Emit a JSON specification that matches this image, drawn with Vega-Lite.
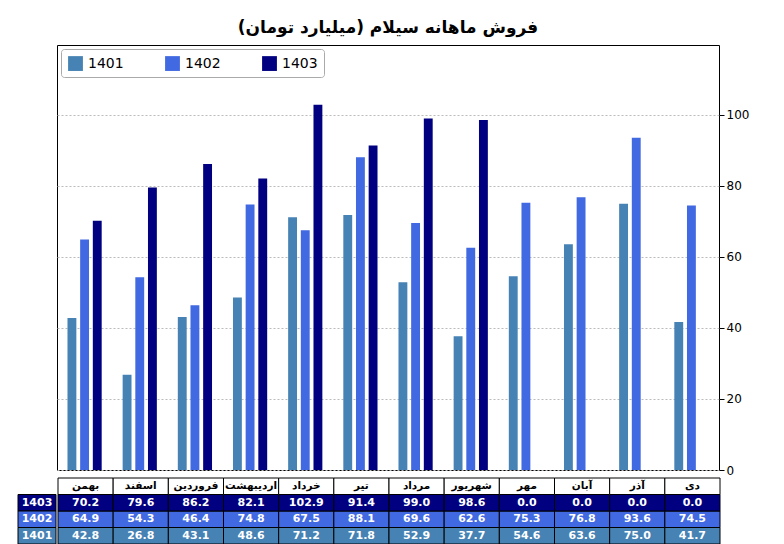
{
  "$schema": "https://vega.github.io/schema/vega-lite/v6.json",
  "background": "white",
  "padding": {"left": 17, "top": 18, "right": 5, "bottom": 5},
  "config": {"font": "DejaVu Sans", "view": {"stroke": null}, "concat": {"spacing": 0}},
  "datasets": {
    "sales": [
      {"month": "بهمن", "year": "1401", "value": 42.8}, {"month": "بهمن", "year": "1402", "value": 64.9}, {"month": "بهمن", "year": "1403", "value": 70.2},
      {"month": "اسفند", "year": "1401", "value": 26.8}, {"month": "اسفند", "year": "1402", "value": 54.3}, {"month": "اسفند", "year": "1403", "value": 79.6},
      {"month": "فروردین", "year": "1401", "value": 43.1}, {"month": "فروردین", "year": "1402", "value": 46.4}, {"month": "فروردین", "year": "1403", "value": 86.2},
      {"month": "اردیبهشت", "year": "1401", "value": 48.6}, {"month": "اردیبهشت", "year": "1402", "value": 74.8}, {"month": "اردیبهشت", "year": "1403", "value": 82.1},
      {"month": "خرداد", "year": "1401", "value": 71.2}, {"month": "خرداد", "year": "1402", "value": 67.5}, {"month": "خرداد", "year": "1403", "value": 102.9},
      {"month": "تیر", "year": "1401", "value": 71.8}, {"month": "تیر", "year": "1402", "value": 88.1}, {"month": "تیر", "year": "1403", "value": 91.4},
      {"month": "مرداد", "year": "1401", "value": 52.9}, {"month": "مرداد", "year": "1402", "value": 69.6}, {"month": "مرداد", "year": "1403", "value": 99.0},
      {"month": "شهریور", "year": "1401", "value": 37.7}, {"month": "شهریور", "year": "1402", "value": 62.6}, {"month": "شهریور", "year": "1403", "value": 98.6},
      {"month": "مهر", "year": "1401", "value": 54.6}, {"month": "مهر", "year": "1402", "value": 75.3}, {"month": "مهر", "year": "1403", "value": 0.0},
      {"month": "آبان", "year": "1401", "value": 63.6}, {"month": "آبان", "year": "1402", "value": 76.8}, {"month": "آبان", "year": "1403", "value": 0.0},
      {"month": "آذر", "year": "1401", "value": 75.0}, {"month": "آذر", "year": "1402", "value": 93.6}, {"month": "آذر", "year": "1403", "value": 0.0},
      {"month": "دی", "year": "1401", "value": 41.7}, {"month": "دی", "year": "1402", "value": 74.5}, {"month": "دی", "year": "1403", "value": 0.0}
    ],
    "years": [{"year": "1403"}, {"year": "1402"}, {"year": "1401"}]
  },
  "resolve": {"scale": {"color": "independent"}, "legend": {"color": "independent"}},
  "vconcat": [
    {
      "resolve": {"scale": {"color": "independent"}, "legend": {"color": "independent"}},
      "hconcat": [
        {"width": 38, "height": 425, "data": {"values": [{}]}, "mark": {"type": "rect", "opacity": 0}, "encoding": {}},
        {
          "width": 662,
          "height": 425,
          "view": {"stroke": "black"},
          "title": {"text": "فروش ماهانه سیلام (میلیارد تومان)", "fontSize": 17, "fontWeight": "bold", "offset": 8},
          "data": {"name": "sales"},
          "mark": {"type": "bar"},
          "encoding": {
            "x": {"field": "month", "type": "nominal", "sort": null, "axis": null, "scale": {"paddingInner": 0.38, "paddingOuter": 0.19}},
            "xOffset": {"field": "year", "type": "nominal", "scale": {"paddingInner": 0.3}},
            "y": {"field": "value", "type": "quantitative", "scale": {"domain": [0, 119.7], "nice": false},
              "axis": {"orient": "right", "values": [0, 20, 40, 60, 80, 100], "title": null, "grid": true, "gridDash": [2, 2], "gridColor": "#bbbbbb", "domain": false, "labelFontSize": 12, "labelColor": "black", "tickColor": "black"}},
            "color": {"field": "year", "type": "nominal", "scale": {"domain": ["1401", "1402", "1403"], "range": ["#4682b4", "#4169e1", "#000080"]},
              "legend": {"orient": "top-left", "direction": "horizontal", "title": null, "symbolType": "square", "symbolSize": 220, "labelFontSize": 14, "columnPadding": 40, "strokeColor": "#aaaaaa", "padding": 6, "fillColor": "white", "offset": 4, "cornerRadius": 3}}
          }
        }
      ]
    },
    {
      "resolve": {"scale": {"color": "independent"}},
      "hconcat": [
        {
          "width": 38,
          "height": 66,
          "data": {"name": "years"},
          "encoding": {
            "y": {"field": "year", "type": "nominal", "scale": {"domain": ["header", "1403", "1402", "1401"], "paddingInner": 0, "paddingOuter": 0}, "axis": null}
          },
          "layer": [
            {"mark": {"type": "rect", "stroke": "black", "strokeWidth": 1},
              "encoding": {"color": {"field": "year", "type": "nominal", "scale": {"domain": ["1401", "1402", "1403"], "range": ["#4682b4", "#4169e1", "#000080"]}, "legend": null}}},
            {"mark": {"type": "text", "color": "white", "fontSize": 11, "fontWeight": "bold"}, "encoding": {"text": {"field": "year"}}}
          ]
        },
        {
          "width": 662,
          "height": 66,
          "data": {"name": "sales"},
          "encoding": {
            "x": {"field": "month", "type": "nominal", "sort": null, "axis": null, "scale": {"paddingInner": 0, "paddingOuter": 0}}
          },
          "layer": [
            {"mark": {"type": "rect", "stroke": "black", "strokeWidth": 1},
              "encoding": {
                "y": {"field": "year", "type": "nominal", "scale": {"domain": ["header", "1403", "1402", "1401"], "paddingInner": 0, "paddingOuter": 0}, "axis": null},
                "color": {"field": "year", "type": "nominal", "scale": {"domain": ["1401", "1402", "1403"], "range": ["#4682b4", "#4169e1", "#000080"]}, "legend": null}}},
            {"mark": {"type": "text", "color": "white", "fontSize": 11, "fontWeight": "bold"},
              "encoding": {
                "y": {"field": "year", "type": "nominal"},
                "text": {"field": "value", "type": "quantitative", "format": ".1f"}}},
            {"transform": [{"filter": "datum.year == '1401'"}],
              "mark": {"type": "rect", "stroke": "black", "strokeWidth": 1, "fill": "white"},
              "encoding": {"y": {"datum": "header", "type": "nominal"}}},
            {"transform": [{"filter": "datum.year == '1401'"}],
              "mark": {"type": "text", "color": "black", "fontSize": 10.5, "fontWeight": "bold"},
              "encoding": {"y": {"datum": "header", "type": "nominal"}, "text": {"field": "month"}}}
          ]
        }
      ]
    }
  ]
}
